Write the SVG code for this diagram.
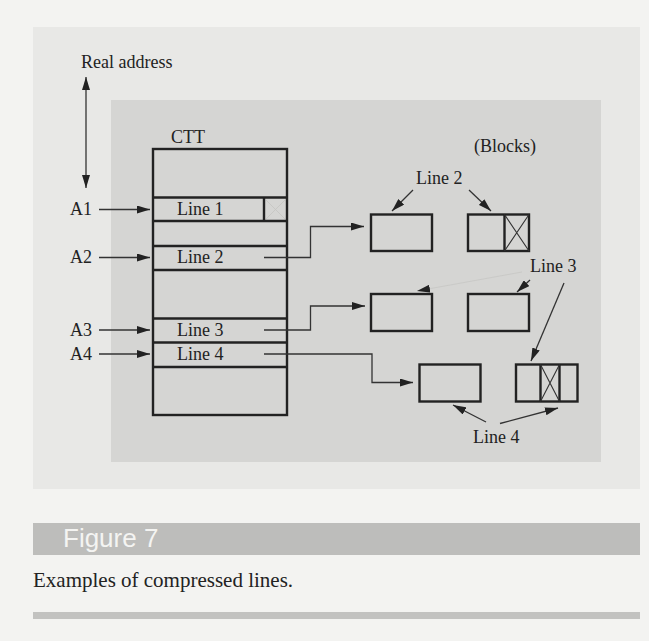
<svg xmlns="http://www.w3.org/2000/svg" width="649" height="641" viewBox="0 0 649 641">
<style>
.t{font-family:"Liberation Serif","Times New Roman",serif;font-size:18px;fill:#222}
.box{fill:none;stroke:#222;stroke-width:2.4}
.thin{fill:none;stroke:#333;stroke-width:1.3}
.xl{fill:none;stroke:#333;stroke-width:1.1}
</style>
<defs>
<marker id="ah" markerUnits="userSpaceOnUse" markerWidth="13" markerHeight="8" refX="13" refY="4" orient="auto-start-reverse">
<path d="M0,0 L13,4 L0,8 z" fill="#222"/>
</marker>
</defs>
<rect x="0" y="0" width="649" height="641" fill="#f3f3f1"/>
<rect x="33" y="27" width="607" height="462" fill="#e8e8e6"/>
<rect x="111" y="100" width="490" height="362" fill="#d5d5d3"/>
<rect x="33" y="523" width="607" height="32" fill="#bdbdbb"/>
<rect x="33" y="612" width="607" height="7" fill="#c2c2c0"/>
<text x="63" y="547" style="font-family:'Liberation Sans',Arial,sans-serif;font-size:26px;fill:#f4f4f2">Figure 7</text>
<text x="33" y="587" class="t" style="font-size:21px">Examples of compressed lines.</text>

<g id="real-address">
<text x="81" y="68" class="t">Real address</text>
<line x1="86" y1="77" x2="86" y2="188" class="thin" marker-start="url(#ah)" marker-end="url(#ah)"/>
</g>

<g id="ctt">
<text x="171" y="143" class="t">CTT</text>
<rect x="153" y="149" width="134" height="266" class="box"/>
<line x1="153" y1="197.5" x2="287" y2="197.5" class="box"/>
<line x1="153" y1="221" x2="287" y2="221" class="box"/>
<line x1="264" y1="197.5" x2="264" y2="221" class="box"/>
<path d="M266,200 L285,219 M285,200 L266,219" stroke="#c4c4c2" stroke-width="0.8" fill="none"/>
<text x="177" y="215" class="t">Line 1</text>
<line x1="153" y1="246" x2="287" y2="246" class="box"/>
<line x1="153" y1="270" x2="287" y2="270" class="box"/>
<text x="177" y="263" class="t">Line 2</text>
<line x1="153" y1="318.5" x2="287" y2="318.5" class="box"/>
<line x1="153" y1="342.5" x2="287" y2="342.5" class="box"/>
<text x="177" y="336" class="t">Line 3</text>
<line x1="153" y1="367" x2="287" y2="367" class="box"/>
<text x="177" y="360" class="t">Line 4</text>
</g>

<g id="addresses">
<text x="70" y="215" class="t">A1</text>
<text x="70" y="263" class="t">A2</text>
<text x="70" y="336" class="t">A3</text>
<text x="70" y="360" class="t">A4</text>
</g>

<g id="block1"><rect x="371" y="214.5" width="61" height="36.5" class="box"/></g>
<g id="block2">
<rect x="468" y="214.5" width="61" height="36.5" class="box"/>
<line x1="504.5" y1="214.5" x2="504.5" y2="251" class="box"/>
<path d="M504.5,214.5 L529,251 M529,214.5 L504.5,251" class="xl"/>
</g>
<g id="block3"><rect x="371" y="294" width="61" height="37" class="box"/></g>
<g id="block4"><rect x="468" y="294" width="61" height="37" class="box"/></g>
<g id="block5"><rect x="419.5" y="364.5" width="61" height="37" class="box"/></g>
<g id="block6">
<rect x="516" y="364.5" width="61.5" height="37" class="box"/>
<line x1="540.5" y1="364.5" x2="540.5" y2="401.5" class="box"/>
<line x1="559.5" y1="364.5" x2="559.5" y2="401.5" class="box"/>
<path d="M540.5,364.5 L559.5,401.5 M559.5,364.5 L540.5,401.5" class="xl"/>
</g>

<text id="blocks-label" x="474" y="152" class="t">(Blocks)</text>
<text id="line2-label" x="416" y="184" class="t">Line 2</text>
<text id="line3-label" x="530" y="272" class="t">Line 3</text>
<text id="line4-label" x="473" y="443" class="t">Line 4</text>

<g id="connectors">
<line x1="99" y1="209.5" x2="150" y2="209.5" class="thin" marker-end="url(#ah)"/>
<line x1="99" y1="257.5" x2="150" y2="257.5" class="thin" marker-end="url(#ah)"/>
<line x1="99" y1="330" x2="150" y2="330" class="thin" marker-end="url(#ah)"/>
<line x1="99" y1="354" x2="150" y2="354" class="thin" marker-end="url(#ah)"/>
<path d="M264,257.5 H310.5 V226.5 H364" class="thin" marker-end="url(#ah)"/>
<path d="M264,330 H310.5 V306 H365" class="thin" marker-end="url(#ah)"/>
<path d="M264,354 H372 V382.5 H413" class="thin" marker-end="url(#ah)"/>
<line x1="413" y1="190" x2="392" y2="211" class="thin" marker-end="url(#ah)"/>
<line x1="469" y1="190" x2="491" y2="211" class="thin" marker-end="url(#ah)"/>
<line x1="522" y1="272" x2="417" y2="291" stroke="#c6c6c4" stroke-width="0.8" marker-end="url(#ah)"/>
<line x1="530" y1="280" x2="517" y2="292" class="thin" marker-end="url(#ah)"/>
<line x1="564" y1="283" x2="531" y2="361" class="thin" marker-end="url(#ah)"/>
<line x1="486" y1="422" x2="453" y2="405" class="thin" marker-end="url(#ah)"/>
<line x1="500" y1="423.5" x2="558" y2="408" class="thin" marker-end="url(#ah)"/>
</g>
</svg>
